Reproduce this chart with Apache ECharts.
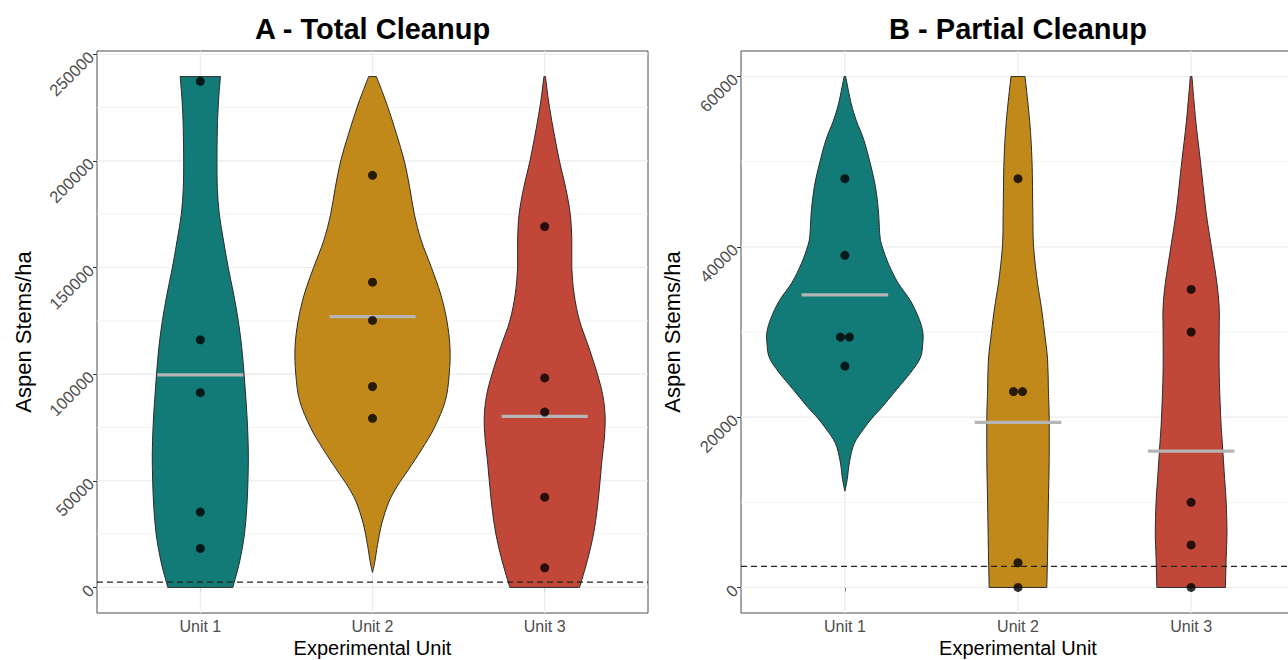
<!DOCTYPE html>
<html><head><meta charset="utf-8">
<script src="https://cdn.jsdelivr.net/npm/echarts@6/dist/echarts.min.js"></script>
<style>html,body{margin:0;padding:0;background:#fff}#chart{width:1288px;height:660px}</style>
</head><body><div id="chart"></div>
<script>
// ---------------- data ----------------
const categories = ['Unit 1', 'Unit 2', 'Unit 3'];
const panelTitles = ['A - Total Cleanup', 'B - Partial Cleanup'];
const xAxisTitle = 'Experimental Unit';
const yAxisTitle = 'Aspen Stems/ha';

const totalTicks = [0, 50000, 100000, 150000, 200000, 250000];
const totalMinorTicks = [25000, 75000, 125000, 175000, 225000];
const partialTicks = [0, 20000, 40000, 60000];
const partialMinorTicks = [10000, 30000, 50000];

const thresholdStems = 2471; // dashed reference line (stems/ha)

// observed plot values (points)
const totalUnit1 = [237300, 116100, 91300, 35300, 18300];
const totalUnit2 = [193200, 143100, 125200, 94200, 79300];
const totalUnit3 = [169200, 98200, 82200, 42300, 9200];
const partialUnit1 = [48000, 39000, 29400, 29400, 26000];
const partialUnit2 = [48000, 23000, 23000, 2900, 0];
const partialUnit3 = [35000, 30000, 10000, 5000, 0];

// violin density profiles: [stems/ha, relative density (1 = widest violin in panel)]
const totalDensity1 = [[239500,0.26],[228000,0.235],[215000,0.22],[200000,0.215],[187000,0.22],[175000,0.245],[162500,0.30],[150000,0.36],[137500,0.43],[125000,0.49],[112500,0.535],[100000,0.565],[87500,0.59],[75000,0.61],[62500,0.62],[50000,0.615],[37500,0.60],[25000,0.57],[12500,0.51],[0,0.42]];
const totalDensity2 = [[239500,0.05],[232000,0.13],[225000,0.20],[212500,0.31],[200000,0.41],[187500,0.48],[175000,0.54],[162500,0.63],[150000,0.76],[137500,0.88],[125000,0.96],[112500,1.0],[100000,0.99],[87500,0.94],[75000,0.80],[65000,0.64],[55000,0.46],[47500,0.32],[40000,0.21],[30000,0.12],[20000,0.065],[12000,0.03],[7000,0]];
const totalDensity3 = [[239500,0.01],[228000,0.05],[215000,0.11],[200000,0.19],[187500,0.27],[175000,0.33],[162500,0.35],[150000,0.35],[137500,0.38],[125000,0.45],[112500,0.57],[100000,0.68],[90000,0.75],[80000,0.78],[70000,0.77],[60000,0.74],[50000,0.715],[37500,0.68],[25000,0.63],[12500,0.55],[0,0.45]];
const partialDensity1 = [[60000,0.01],[56850,0.08],[54750,0.15],[52650,0.24],[50000,0.32],[47200,0.39],[44250,0.43],[41300,0.45],[40000,0.48],[38000,0.56],[35800,0.68],[33700,0.84],[31600,0.95],[30000,1.0],[28700,1.0],[27000,0.97],[25300,0.85],[23200,0.66],[21100,0.47],[19900,0.35],[18600,0.24],[16900,0.12],[14800,0.06],[12700,0.03],[11300,0]];
const partialDensity2 = [[60000,0.09],[54750,0.15],[50000,0.18],[44250,0.19],[40000,0.20],[35800,0.25],[32900,0.30],[30000,0.34],[26700,0.38],[23200,0.39],[20000,0.40],[14900,0.40],[10000,0.39],[4300,0.38],[0,0.37]];
const partialDensity3 = [[60000,0.01],[54750,0.06],[50000,0.12],[44250,0.19],[40000,0.26],[35800,0.33],[32900,0.36],[30000,0.36],[25300,0.36],[20000,0.38],[17000,0.40],[12800,0.43],[10000,0.45],[6400,0.46],[3500,0.45],[0,0.44]];

// ---------------- styling / layout ----------------
const FONT = "'Liberation Sans', Arial, Helvetica, sans-serif";
const unitColors = ['#127B78', '#C1891A', '#C14738'];
const TOP = 51, HEIGHT = 562;
const MAX_HALF = 0.45;      // half of violin width 0.9
const MEAN_HALF = 0.25;     // half width of mean bar
const DODGE = 0.052;        // horizontal spacing of tied points

const panels = [
  { left: 97, width: 551, yTitleX: 23, min: -12000, max: 251500,
    title: panelTitles[0], ticks: totalTicks, minor: totalMinorTicks,
    points: [totalUnit1, totalUnit2, totalUnit3],
    density: [totalDensity1, totalDensity2, totalDensity3] },
  { left: 741, width: 554, yTitleX: 672, min: -3000, max: 63000,
    title: panelTitles[1], ticks: partialTicks, minor: partialMinorTicks,
    points: [partialUnit1, partialUnit2, partialUnit3],
    density: [partialDensity1, partialDensity2, partialDensity3] }
];
const unitPositions = categories.map((c, i) => i + 1);

function catmull(pts) {
  let d = '';
  for (let i = 0; i < pts.length - 1; i++) {
    const p0 = pts[i - 1] || pts[i], p1 = pts[i], p2 = pts[i + 1], p3 = pts[i + 2] || pts[i + 1];
    const c1x = p1[0] + (p2[0] - p0[0]) / 6, c1y = p1[1] + (p2[1] - p0[1]) / 6;
    const c2x = p2[0] - (p3[0] - p1[0]) / 6, c2y = p2[1] - (p3[1] - p1[1]) / 6;
    d += ' C' + c1x + ',' + c1y + ' ' + c2x + ',' + c2y + ' ' + p2[0] + ',' + p2[1];
  }
  return d;
}

function dodged(values, x) {
  const out = [];
  const groups = {};
  values.forEach(v => { (groups[v] = groups[v] || []).push(v); });
  Object.keys(groups).forEach(k => {
    const g = groups[k];
    g.forEach((v, j) => out.push([x + (j - (g.length - 1) / 2) * DODGE, v]));
  });
  return out;
}

const grids = [], xAxes = [], yAxes = [], series = [], graphics = [];

panels.forEach((p, i) => {
  grids.push({ left: p.left, top: TOP, width: p.width, height: HEIGHT, show: true,
    borderColor: '#4d4d4d', borderWidth: 1, backgroundColor: 'transparent',
    containLabel: false, outerBoundsMode: 'none' });
  xAxes.push({ type: 'value', gridIndex: i, min: 0.4, max: 3.6,
    axisLine: { show: false }, splitLine: { show: false },
    axisTick: { show: true, customValues: unitPositions, length: 4, lineStyle: { color: '#333', width: 1 } },
    axisLabel: { customValues: unitPositions, formatter: v => categories[Math.round(v) - 1],
      color: '#4d4d4d', fontSize: 16, fontFamily: FONT, margin: 5 } });
  yAxes.push({ type: 'value', gridIndex: i, min: p.min, max: p.max,
    axisLine: { show: false }, splitLine: { show: false },
    axisTick: { show: true, customValues: p.ticks, length: 4, lineStyle: { color: '#333', width: 1 } },
    axisLabel: { customValues: p.ticks, formatter: v => String(Math.round(v)), rotate: 45,
      color: '#4d4d4d', fontSize: 16.5, fontFamily: FONT, margin: 6 } });

  // grid lines
  const gridData = [].concat(
    p.minor.map(v => [0, v, 0]),
    p.ticks.map(v => [0, v, 1]),
    unitPositions.map(v => [1, v, 1]));
  series.push({ type: 'custom', xAxisIndex: i, yAxisIndex: i, z: 1, silent: true, data: gridData,
    renderItem: (params, api) => {
      const cs = params.coordSys;
      const orient = api.value(0), v = api.value(1), major = api.value(2);
      let shape;
      if (orient === 0) { const y = api.coord([1, v])[1]; shape = { x1: cs.x, y1: y, x2: cs.x + cs.width, y2: y }; }
      else { const x = api.coord([v, 0])[0]; shape = { x1: x, y1: cs.y, x2: x, y2: cs.y + cs.height }; }
      return { type: 'line', shape, style: { stroke: major ? '#ebebeb' : '#f2f2f2', lineWidth: major ? 1.1 : 0.9 } };
    } });

  // violins
  series.push({ type: 'custom', xAxisIndex: i, yAxisIndex: i, z: 2, silent: true,
    data: unitPositions.map(x => [x, 0]),
    renderItem: (params, api) => {
      const x = api.value(0);
      const prof = p.density[params.dataIndex];
      const right = prof.map(([v, d]) => api.coord([x + d * MAX_HALF, v]));
      const left = prof.slice().reverse().map(([v, d]) => api.coord([x - d * MAX_HALF, v]));
      const d = 'M' + right[0][0] + ',' + right[0][1] + catmull(right) +
        ' L' + left[0][0] + ',' + left[0][1] + catmull(left) + ' Z';
      return { type: 'path', shape: { pathData: d },
        style: { fill: unitColors[params.dataIndex], stroke: '#2b2b2b', lineWidth: 1 } };
    } });

  // mean bars
  series.push({ type: 'custom', xAxisIndex: i, yAxisIndex: i, z: 3, silent: true,
    data: p.points.map((vals, k) => [unitPositions[k], vals.reduce((a, b) => a + b, 0) / vals.length]),
    renderItem: (params, api) => {
      const a = api.coord([api.value(0) - MEAN_HALF, api.value(1)]);
      const b = api.coord([api.value(0) + MEAN_HALF, api.value(1)]);
      return { type: 'line', shape: { x1: a[0], y1: a[1], x2: b[0], y2: b[1] },
        style: { stroke: '#b5b5b5', lineWidth: 3.2 } };
    } });

  // threshold line
  series.push({ type: 'custom', xAxisIndex: i, yAxisIndex: i, z: 4, silent: true,
    data: [[1, thresholdStems]],
    renderItem: (params, api) => {
      const cs = params.coordSys;
      const y = api.coord([1, api.value(1)])[1];
      return { type: 'line', shape: { x1: cs.x, y1: y, x2: cs.x + cs.width, y2: y },
        style: { stroke: '#222', lineWidth: 1.2, lineDash: [6, 4] } };
    } });

  // points
  let pts = [];
  p.points.forEach((vals, k) => { pts = pts.concat(dodged(vals, unitPositions[k])); });
  series.push({ type: 'scatter', xAxisIndex: i, yAxisIndex: i, z: 5, silent: true,
    symbol: 'circle', symbolSize: 9, itemStyle: { color: '#000' }, data: pts });

  const cx = p.left + p.width / 2;
  graphics.push({ type: 'text', x: cx, y: 29, style: { text: p.title, fontSize: 29, fontWeight: 'bold',
    fontFamily: FONT, fill: '#000', align: 'center', verticalAlign: 'middle' } });
  graphics.push({ type: 'text', x: cx, y: 648, style: { text: xAxisTitle, fontSize: 20,
    fontFamily: FONT, fill: '#000', align: 'center', verticalAlign: 'middle' } });
  graphics.push({ type: 'text', x: p.yTitleX, y: TOP + HEIGHT / 2, rotation: Math.PI / 2,
    style: { text: yAxisTitle, fontSize: 22, fontFamily: FONT, fill: '#000', align: 'center', verticalAlign: 'middle' } });
});

const chart = echarts.init(document.getElementById('chart'), null, { renderer: 'svg', width: 1288, height: 660 });
chart.setOption({
  animation: false,
  backgroundColor: '#fff',
  grid: grids, xAxis: xAxes, yAxis: yAxes, series: series, graphic: graphics
});
</script>
</body></html>
